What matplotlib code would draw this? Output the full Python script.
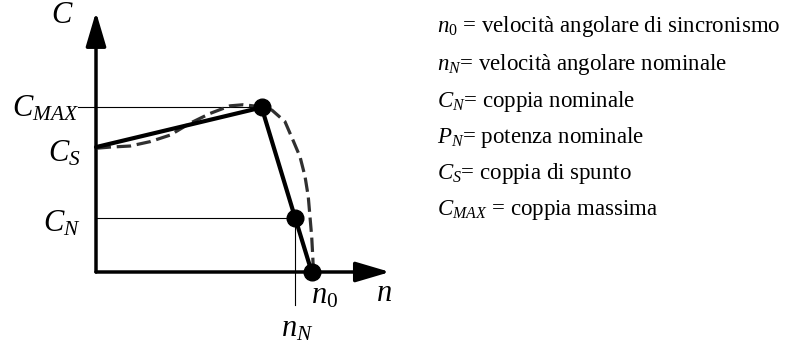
import matplotlib
matplotlib.use("Agg")
import matplotlib.pyplot as plt

plt.rcParams['font.family'] = ['Liberation Serif', 'DejaVu Serif']
plt.rcParams['mathtext.fontset'] = 'custom'
plt.rcParams['mathtext.rm'] = 'Liberation Serif'
plt.rcParams['mathtext.it'] = 'Liberation Serif:italic'
plt.rcParams['mathtext.bf'] = 'Liberation Serif:bold'

# Characteristic points (n: speed, relative to n0; C: torque, relative to C_N)
n_points = [0.0, 0.768, 0.923, 1.0]
C_points = [2.30, 3.03, 1.0, 0.0]

# Real (dashed) torque curve
n_curve = [0.003, 0.065, 0.158, 0.250, 0.343, 0.436, 0.529, 0.621, 0.682, 0.774,
           0.816, 0.876, 0.913, 0.946, 0.969, 0.984, 0.992, 1.000, 1.005, 1.008]
C_curve = [2.28, 2.30, 2.32, 2.40, 2.52, 2.74, 2.92, 3.06, 3.08, 3.04,
           2.98, 2.77, 2.43, 2.12, 1.76, 1.39, 1.02, 0.65, 0.28, 0.01]

legend_lines = [
    r"$n_0$ = velocità angolare di sincronismo",
    r"$n_N$= velocità angolare nominale",
    r"$C_N$= coppia nominale",
    r"$P_N$= potenza nominale",
    r"$C_S$= coppia di spunto",
    r"$C_{MAX}$ = coppia massima",
]

W, H = 796, 342
fig = plt.figure(figsize=(W / 100, H / 100), dpi=100)
ax = fig.add_axes([0, 0, 1, 1])
ax.axis('off')

# pixel mapping: origin at (96, 272), 215.7 px per n unit, 54.3 px per C unit
x0, y0, sx, sy = 96, 272, 215.7, 54.3
ax.set_xlim(-x0 / sx, (W - x0) / sx)
ax.set_ylim((y0 - H) / sy, y0 / sy)

n_S, n_max, n_N, n_0 = n_points
C_S, C_max, C_N, _ = C_points

# guide lines
ax.plot([-0.083, n_max], [C_max, C_max], color='black', lw=0.8)
ax.plot([0, n_N], [C_N, C_N], color='black', lw=0.8)
ax.plot([n_N, n_N], [C_N, -0.61], color='black', lw=0.8)

# axes with arrows
arrow_kw = dict(arrowstyle='-|>,head_length=2.1,head_width=0.62', lw=2.5,
                color='black', shrinkA=0, shrinkB=0, mutation_scale=10)
ax.annotate('', xy=(1.363, 0), xytext=(0, 0), arrowprops=arrow_kw)
ax.annotate('', xy=(0, 4.79), xytext=(0, 0), arrowprops=arrow_kw)

# dashed real curve
ax.plot(n_curve, C_curve, color='#303030', lw=2.3, dashes=(4.5, 1.8), zorder=3)

# simplified characteristic
ax.plot(n_points, C_points, color='black', lw=3.0, solid_capstyle='round', zorder=4)
ax.plot(n_points[1:], C_points[1:], 'o', color='black', ms=12, zorder=5)

fs = 22
ax.text(-0.155, 4.72, r"$C$", fontsize=fs, ha='center', va='center')
ax.text(-0.08, C_max - 0.03, r"$C_{MAX}$", fontsize=fs, ha='right', va='center')
ax.text(-0.07, C_S - 0.12, r"$C_S$", fontsize=fs, ha='right', va='center')
ax.text(-0.07, C_N - 0.12, r"$C_N$", fontsize=fs, ha='right', va='center')
ax.text(n_0 + 0.06, -0.45, r"$n_0$", fontsize=fs, ha='center', va='center')
ax.text(1.335, -0.4, r"$n$", fontsize=fs, ha='center', va='center')
ax.text(n_N + 0.01, -1.05, r"$n_N$", fontsize=fs, ha='center', va='center')

# legend text
baselines = [32, 70, 107, 143, 179, 215]
for s, yb in zip(legend_lines, baselines):
    fig.text(437 / W, 1 - yb / H, s, fontsize=16.5, ha='left', va='baseline')

fig.savefig("out.png", dpi=100)
